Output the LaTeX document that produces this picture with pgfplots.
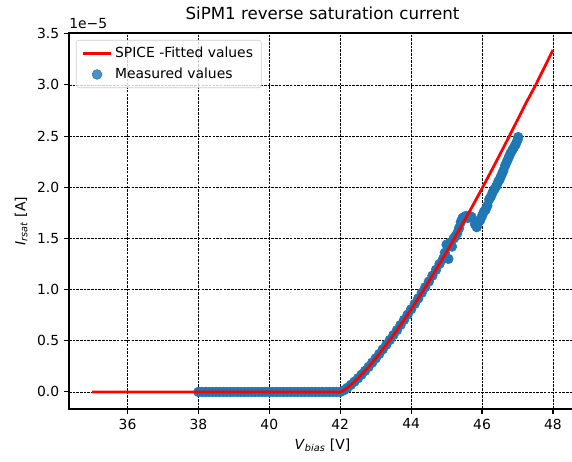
\documentclass[border=0pt]{standalone}
\usepackage{fontspec}
\setmainfont{DejaVu Sans}
\usepackage{pgfplots}
\pgfplotsset{compat=1.18}
\definecolor{mplblue}{HTML}{1F77B4}
\definecolor{mplred}{HTML}{FF0000}

\begin{document}
\begin{tikzpicture}
\begin{axis}[
  scale only axis,
  width=365pt, height=270.7pt,
  xmin=34.35, xmax=48.65,
  ymin=-0.167, ymax=3.507,
  clip marker paths=true,
  xtick={36,38,...,48},
  ytick={0,0.5,...,3.5},
  yticklabel style={/pgf/number format/.cd, fixed, fixed zerofill, precision=1},
  /pgf/number format/assume math mode=true,
  ticklabel style={font=\fontsize{10}{12}\selectfont},
  tick align=outside,
  xtick pos=left, ytick pos=left,
  major tick length=3.5pt,
  tick style={black, line width=0.8pt},
  axis line style={black, line width=0.8pt},
  grid=major,
  grid style={black, line width=0.5pt, dash pattern=on 1.85pt off 0.8pt},
  title={SiPM1 reverse saturation current},
  title style={font=\fontsize{12}{14}\selectfont},
  xlabel={\textit{V}\textsubscript{\textit{bias}} [V]},
  ylabel={\textit{I}\textsubscript{\textit{rsat}} [A]},
  label style={font=\fontsize{10}{12}\selectfont},
  legend style={at={(0,1)}, anchor=north west, xshift=5pt, yshift=-5pt,
    draw=black!20, rounded corners=2pt, fill=white, fill opacity=0.8,
    text opacity=1, font=\fontsize{10}{12}\selectfont,
    cells={anchor=west}, inner xsep=4pt, inner ysep=3pt, row sep=2pt},
]
\addlegendimage{legend image code/.code={\draw[mplred, line width=2pt] (0pt,0pt) -- (20pt,0pt);}}
\addlegendentry{SPICE -Fitted values}
\addlegendimage{legend image code/.code={\fill[mplblue] (10pt,0pt) circle (3.5pt);}}
\addlegendentry{Measured values}

% measured values
\addplot[only marks, mark=*, mark size=3.5pt, color=mplblue, forget plot] coordinates {
  (38.0,0)(38.1,0)(38.2,0)(38.3,0)(38.4,0)(38.5,0)(38.6,0)(38.7,0)(38.8,0)(38.9,0)
  (39.0,0)(39.1,0)(39.2,0)(39.3,0)(39.4,0)(39.5,0)(39.6,0)(39.7,0)(39.8,0)(39.9,0)
  (40.0,0)(40.1,0)(40.2,0)(40.3,0)(40.4,0)(40.5,0)(40.6,0)(40.7,0)(40.8,0)(40.9,0)
  (41.0,0)(41.1,0)(41.2,0)(41.3,0)(41.4,0)(41.5,0)(41.6,0)(41.7,0)(41.8,0)(41.9,0)
  (42.0,0)(42.1,0.016)(42.2,0.040)(42.3,0.069)(42.4,0.100)(42.5,0.133)(42.6,0.169)
  (42.7,0.206)(42.8,0.245)(42.9,0.286)(43.0,0.328)(43.1,0.371)(43.2,0.416)(43.3,0.461)
  (43.4,0.508)(43.5,0.556)(43.6,0.604)(43.7,0.654)(43.8,0.704)(43.9,0.755)(44.0,0.808)
  (44.1,0.860)(44.2,0.914)(44.3,0.969)(44.4,1.024)(44.5,1.079)(44.6,1.136)(44.7,1.193)
  (44.8,1.251)(44.9,1.300)(44.95,1.36)(45.0,1.44)(45.05,1.30)(45.1,1.46)(45.15,1.42)
  (45.2,1.50)(45.25,1.52)(45.3,1.55)(45.35,1.60)(45.4,1.66)(45.45,1.70)(45.5,1.71)
  (45.55,1.72)(45.6,1.70)(45.65,1.72)(45.7,1.71)(45.8,1.64)(45.85,1.61)(45.9,1.66)
  (45.95,1.68)(46.0,1.72)(46.05,1.76)(46.1,1.78)(46.15,1.82)(46.2,1.88)(46.25,1.91)
  (46.3,1.95)(46.35,1.98)(46.4,2.01)(46.45,2.05)(46.5,2.08)(46.55,2.12)(46.6,2.16)
  (46.65,2.21)(46.7,2.25)(46.75,2.29)(46.8,2.33)(46.85,2.36)(46.9,2.39)(46.95,2.42)
  (47.0,2.46)(47.02,2.49)
};

% SPICE fit
\addplot[color=mplred, line width=2pt, forget plot] coordinates {
  (35,0)(42,0)(42.1,0.016)(42.2,0.040)(42.3,0.069)(42.4,0.100)(42.5,0.133)
  (42.6,0.169)(42.7,0.206)(42.8,0.245)(42.9,0.286)(43.0,0.328)(43.2,0.416)
  (43.4,0.508)(43.6,0.604)(43.8,0.704)(44.0,0.808)(44.2,0.914)(44.4,1.024)
  (44.6,1.136)(44.8,1.251)(45.0,1.368)(45.2,1.488)(45.4,1.610)(45.6,1.734)
  (45.8,1.860)(46.0,1.989)(46.2,2.119)(46.4,2.251)(46.6,2.385)(46.8,2.521)
  (47.0,2.658)(47.25,2.83)(47.5,2.99)(47.75,3.165)(48.0,3.34)
};
\end{axis}
\node[anchor=south west, inner sep=0pt, font=\fontsize{10}{12}\selectfont]
  at ([yshift=3pt]current axis.north west) {1e−5};
\pgfresetboundingbox
\path[use as bounding box]
  ([xshift=-49.68pt,yshift=-37.44pt]current axis.south west) rectangle
  ([xshift=-2.88pt,yshift=23.76pt]current axis.north east);
\end{tikzpicture}
\end{document}
